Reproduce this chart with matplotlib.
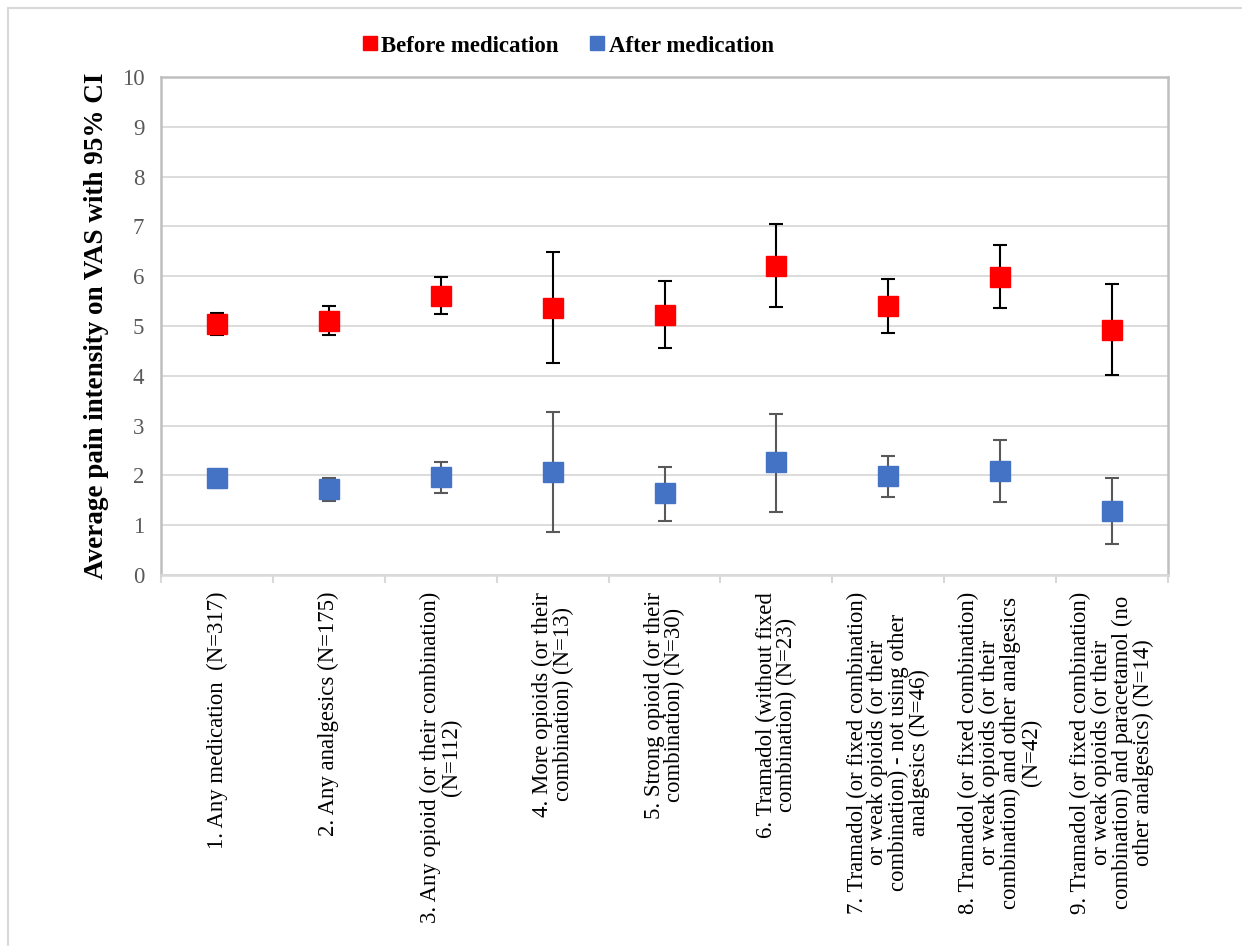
import matplotlib.pyplot as plt
from matplotlib.patches import Rectangle

plt.rcParams["font.family"] = ["Liberation Serif", "DejaVu Serif"]

labels = [
    "1. Any medication  (N=317)",
    "2. Any analgesics (N=175)",
    "3. Any opioid (or their combination)\n(N=112)",
    "4. More opioids (or their\ncombination) (N=13)",
    "5. Strong opioid (or their\ncombination) (N=30)",
    "6. Tramadol (without fixed\ncombination) (N=23)",
    "7. Tramadol (or fixed combination)\nor weak opioids (or their\ncombination) - not using other\nanalgesics (N=46)",
    "8. Tramadol (or fixed combination)\nor weak opioids (or their\ncombination) and other analgesics\n(N=42)",
    "9. Tramadol (or fixed combination)\nor weak opioids (or their\ncombination) and paracetamol (no\nother analgesics) (N=14)",
]

# mean VAS with 95% CI bounds
before_mean = [5.05, 5.11, 5.61, 5.37, 5.23, 6.21, 5.41, 5.99, 4.91]
before_low = [4.82, 4.82, 5.25, 4.26, 4.55, 5.38, 4.85, 5.36, 4.02]
before_high = [5.27, 5.41, 5.99, 6.49, 5.90, 7.04, 5.95, 6.63, 5.84]

after_mean = [1.95, 1.73, 1.97, 2.07, 1.65, 2.27, 1.98, 2.09, 1.29]
after_low = [1.75, 1.49, 1.65, 0.87, 1.09, 1.27, 1.57, 1.46, 0.62]
after_high = [2.10, 1.95, 2.27, 3.28, 2.16, 3.23, 2.38, 2.71, 1.94]

x = list(range(len(labels)))

fig = plt.figure(figsize=(12.42, 9.46), dpi=100)
ax = fig.add_axes([161 / 1242, 1 - 575 / 946, 1007 / 1242, 498 / 946])

# outer chart frame
fig.patches.append(Rectangle((8 / 1242, -0.01), 1.0, 1 - 8 / 946 + 0.01,
                             transform=fig.transFigure, fill=False,
                             edgecolor="#d9d9d9", linewidth=1.5))

b_err = [[m - lo for m, lo in zip(before_mean, before_low)],
         [hi - m for m, hi in zip(before_mean, before_high)]]
a_err = [[m - lo for m, lo in zip(after_mean, after_low)],
         [hi - m for m, hi in zip(after_mean, after_high)]]

ax.errorbar(x, before_mean, yerr=b_err, fmt="s", color="#ff0000",
            markersize=14, ecolor="black", elinewidth=1.5, capsize=5,
            capthick=1.5, label="Before medication", zorder=3)
ax.errorbar(x, after_mean, yerr=a_err, fmt="s", color="#4472c4",
            markersize=14, ecolor="#595959", elinewidth=1.5, capsize=5,
            capthick=1.5, label="After medication", zorder=3)

ax.set_xlim(-0.5, len(labels) - 0.5)
ax.set_ylim(0, 10)
ax.set_yticks(range(0, 11))
ax.grid(axis="y", color="#d9d9d9", linewidth=1.3)
ax.set_axisbelow(True)

for side in ["left", "top", "right"]:
    ax.spines[side].set_color("#bfbfbf")
    ax.spines[side].set_linewidth(1.8)
ax.spines["bottom"].set_color("#d9d9d9")
ax.spines["bottom"].set_linewidth(1.8)

ax.set_xticks(x)
ax.set_xticklabels(labels, rotation=90, ha="center", va="top",
                   multialignment="center", fontsize=16.4, linespacing=0.98)
ax.set_xticks([i - 0.5 for i in range(len(labels) + 1)], minor=True)
ax.tick_params(axis="x", which="major", length=0, pad=12)
ax.tick_params(axis="x", which="minor", length=6, width=1.5, color="#d9d9d9")
ax.tick_params(axis="y", length=0, labelsize=16.5, labelcolor="#595959", pad=12)

ax.set_ylabel("Average pain intensity on VAS with 95% CI", fontsize=19.5,
              fontweight="bold", labelpad=9)

handles, names = ax.get_legend_handles_labels()
handles = [h[0] for h in handles]
leg = fig.legend(handles, names, loc="center",
                 bbox_to_anchor=(566 / 1242, 1 - 46 / 946),
                 ncol=2, frameon=False, prop={"size": 16.5, "weight": "bold"},
                 handletextpad=0.0, columnspacing=1.2, handlelength=1.0)
for h in leg.legend_handles:
    h.set_markersize(10.5)

fig.savefig("out.png", dpi=100)
